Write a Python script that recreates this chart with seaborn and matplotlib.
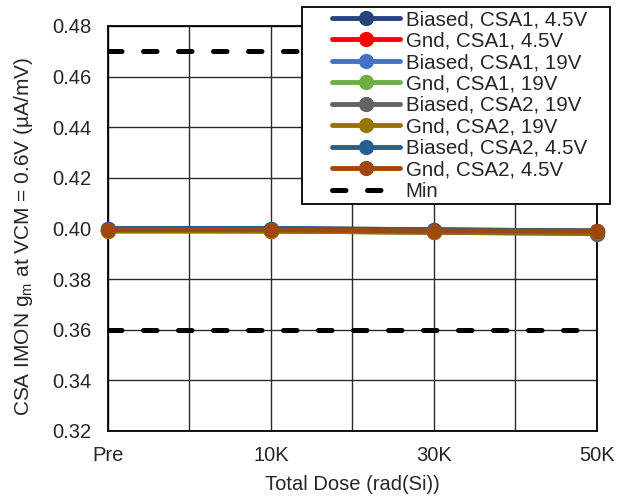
import numpy as np
import pandas as pd
import seaborn as sns
import matplotlib.pyplot as plt
from matplotlib.ticker import MultipleLocator
from matplotlib.lines import Line2D
from matplotlib.legend_handler import HandlerLine2D

doses = ['Pre', '10K', '30K', '50K']

biased_csa1_45 = [0.4000, 0.4000, 0.3995, 0.3990]
gnd_csa1_45 = [0.4000, 0.3995, 0.3990, 0.3985]
biased_csa1_19 = [0.3995, 0.3995, 0.3990, 0.3985]
gnd_csa1_19 = [0.3990, 0.3990, 0.3985, 0.3980]
biased_csa2_19 = [0.3995, 0.3990, 0.3985, 0.3980]
gnd_csa2_19 = [0.3990, 0.3990, 0.3985, 0.3985]
biased_csa2_45 = [0.4000, 0.4000, 0.3995, 0.3990]
gnd_csa2_45 = [0.3995, 0.3995, 0.3990, 0.3990]

series_names = ['Biased, CSA1, 4.5V', 'Gnd, CSA1, 4.5V', 'Biased, CSA1, 19V',
                'Gnd, CSA1, 19V', 'Biased, CSA2, 19V', 'Gnd, CSA2, 19V',
                'Biased, CSA2, 4.5V', 'Gnd, CSA2, 4.5V']
colors = ['#264478', '#FF0000', '#4472C4', '#70AD47',
          '#636363', '#997300', '#255E91', '#9E480E']

limits = [0.47, 0.36]

all_vals = [biased_csa1_45, gnd_csa1_45, biased_csa1_19, gnd_csa1_19,
            biased_csa2_19, gnd_csa2_19, biased_csa2_45, gnd_csa2_45]
rows = []
for name, vals in zip(series_names, all_vals):
  for i, v in enumerate(vals):
    rows.append({'dose': i, 'gm': v, 'series': name})
df = pd.DataFrame(rows)

sns.set_style('white')
plt.rcParams['font.family'] = ['Liberation Sans', 'DejaVu Sans']
fs = 14.5
lfs = 14.8

fig = plt.figure(figsize=(6.3, 5), dpi=100)
ax = fig.add_axes([0.1714, 0.138, 0.776, 0.81])

sns.lineplot(data=df, x='dose', y='gm', hue='series', hue_order=series_names,
             palette=colors, marker='o', markersize=11, markeredgewidth=0,
             linewidth=3.5, ax=ax, legend=True, clip_on=False, zorder=3)

# limit lines (both drawn as "Min" in the original)
for j, lim in enumerate(limits):
  ax.axhline(lim, color='black', linestyle=(0, (2.7, 4.3)), linewidth=3.6,
             dash_capstyle='round', label='Min' if j == 0 else None, zorder=1.5)

ax.set_xlim(0, 3)
ax.set_ylim(0.32, 0.48)
ax.set_xticks(range(len(doses)))
ax.set_xticklabels(doses)
ax.xaxis.set_minor_locator(MultipleLocator(0.5))
ax.yaxis.set_major_locator(MultipleLocator(0.02))
ax.yaxis.set_major_formatter(plt.FormatStrFormatter('%.2f'))
ax.grid(True, which='both', color='#2a2a2a', linewidth=1.0)
ax.set_axisbelow(True)
ax.tick_params(which='both', length=0, labelsize=fs)
ax.tick_params(axis='x', pad=11)
ax.tick_params(axis='y', pad=12)
for s in ax.spines.values():
  s.set_color('black')
  s.set_linewidth(1.3)

ax.set_xlabel('Total Dose (rad(Si))', fontsize=fs, labelpad=7)
ax.set_ylabel('CSA IMON g$_\\mathregular{m}$ at VCM = 0.6V (µA/mV)', fontsize=15)
ax.yaxis.set_label_coords(-0.15, 0.48)

handles, labels = ax.get_legend_handles_labels()
leg = ax.legend(handles, labels, loc='upper left',
                bbox_to_anchor=(0.4794, 0.5, 0.4889, 0.486),
                bbox_transform=fig.transFigure, mode='expand', borderaxespad=0,
                fontsize=lfs, handlelength=4.64, labelspacing=0.12,
                borderpad=0.15, handletextpad=0.25,
                handler_map={Line2D: HandlerLine2D(xpad=1.29)},
                fancybox=False, framealpha=1, edgecolor='black')
leg.get_frame().set_linewidth(1.3)

fig.savefig('out.png', dpi=100)
